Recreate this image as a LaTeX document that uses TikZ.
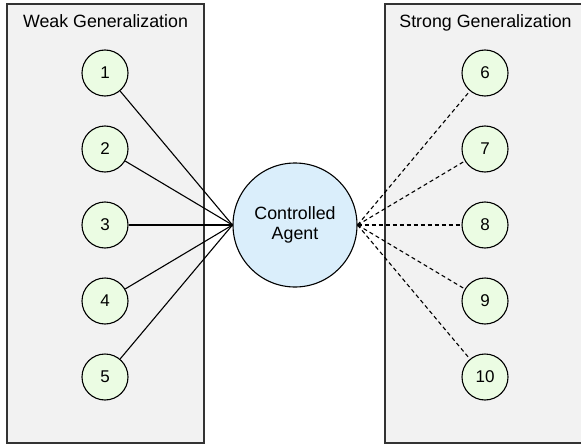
\documentclass[tikz,border=0pt]{standalone}
\usepackage{fontspec}
\setmainfont{Liberation Sans}
\usetikzlibrary{positioning}
\definecolor{panelfill}{HTML}{F2F2F2}
\definecolor{taskfill}{HTML}{EBFCE3}
\definecolor{ctrlfill}{HTML}{DAEEFB}
\tikzset{panel/.style={draw=black!80,line width=1.4pt,fill=panelfill,minimum width=197pt,minimum height=439pt,inner sep=0pt},task/.style={circle,draw=black,line width=1.1pt,fill=taskfill,minimum size=46pt,inner sep=0pt,font=\fontsize{17}{20}\selectfont},ctrl/.style={circle,draw=black,line width=1.1pt,fill=ctrlfill,minimum size=124pt,inner sep=0pt,align=center,font=\fontsize{17.8}{20.5}\selectfont},conn/.style={line width=1.1pt},weakconn/.style={conn,dash pattern=on 4pt off 3pt},lab/.style={anchor=base,inner sep=0pt,font=\fontsize{17.8}{20}\selectfont}}

\begin{document}
\begin{tikzpicture}[x=1pt,y=-1pt]
\useasboundingbox (0,0) rectangle (581,444);
\clip (0,0) rectangle (581,444);
\node[panel] (weak) at (105.5,223.5) {};
\node[panel] (strong) at (483.5,223.5) {};
\node[lab] (weakt) at (105.5,28) {Weak Generalization};
\node[lab] (strongt) at (485.5,28) {Strong Generalization};
\node[ctrl] (agent) at (295,225) {Controlled\\Agent};
\node[task] (t1) at (105,73) {1};
\node[task] (t2) at (105,149) {2};
\node[task] (t3) at (105,225) {3};
\node[task] (t4) at (105,301) {4};
\node[task] (t5) at (105,377) {5};
\node[task] (t6) at (485,73) {6};
\node[task] (t7) at (485,149) {7};
\node[task] (t8) at (485,225) {8};
\node[task] (t9) at (485,301) {9};
\node[task] (t10) at (485,377) {10};
\draw[conn](t1)--(agent.west);\draw[conn](t2)--(agent.west);\draw[conn](t3)--(agent.west);
\draw[conn](t4)--(agent.west);\draw[conn](t5)--(agent.west);
\draw[weakconn](agent.east)--(t6);\draw[weakconn](agent.east)--(t7);\draw[weakconn](agent.east)--(t8);
\draw[weakconn](agent.east)--(t9);\draw[weakconn](agent.east)--(t10);
\end{tikzpicture}
\end{document}
